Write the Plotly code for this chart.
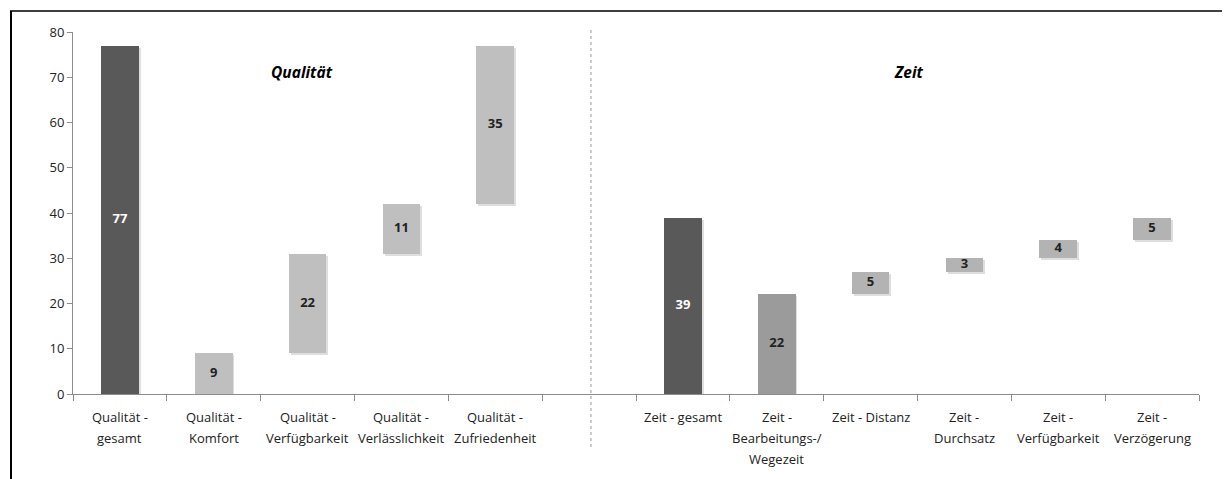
import plotly.graph_objects as go

# ---- data ----
categories = ["Qualität - gesamt", "Qualität - Komfort", "Qualität - Verfügbarkeit",
              "Qualität - Verlässlichkeit", "Qualität - Zufriedenheit", "",
              "Zeit - gesamt", "Zeit - Bearbeitungs-/Wegezeit", "Zeit - Distanz",
              "Zeit - Durchsatz", "Zeit - Verfügbarkeit", "Zeit - Verzögerung"]
tick_labels = [["Qualität -", "gesamt"], ["Qualität -", "Komfort"], ["Qualität -", "Verfügbarkeit"],
               ["Qualität -", "Verlässlichkeit"], ["Qualität -", "Zufriedenheit"], [],
               ["Zeit - gesamt"], ["Zeit -", "Bearbeitungs-/", "Wegezeit"], ["Zeit - Distanz"],
               ["Zeit -", "Durchsatz"], ["Zeit -", "Verfügbarkeit"], ["Zeit -", "Verzögerung"]]
values = [77, 9, 22, 11, 35, None, 39, 22, 5, 3, 4, 5]
bases = [0, 0, 9, 31, 42, None, 0, 0, 22, 27, 30, 34]
group_titles = ["Qualität", "Zeit"]
y_ticks = [0, 10, 20, 30, 40, 50, 60, 70, 80]

# ---- styles ----
colors = ["#595959", "#bfbfbf", "#bfbfbf", "#bfbfbf", "#bfbfbf", "#ffffff",
          "#595959", "#9b9b9b", "#b3b3b3", "#b3b3b3", "#b3b3b3", "#b3b3b3"]
text_colors = ["#ffffff", "#222222", "#222222", "#222222", "#222222", "#222222",
               "#ffffff", "#222222", "#222222", "#222222", "#222222", "#222222"]
FONT = "Open Sans"
OFF = 8  # page body margin
W, H = 1230 - OFF, 479 - OFF
ML, MT = 73 - OFF, 32 - OFF
PW, PH = 1126, 362
MR, MB = W - ML - PW, H - MT - PH


def px_x(px):  # page pixel -> paper x
    return (px - OFF - ML) / PW


def px_y(py):  # page pixel -> paper y
    return (MT + PH - (py - OFF)) / PH


xs = list(range(len(categories)))
bx = [x for x, v in zip(xs, values) if v is not None]
bv = [v for v in values if v is not None]
bb = [b for b in bases if b is not None]
bc = [c for c, v in zip(colors, values) if v is not None]
tc = [c for c, v in zip(text_colors, values) if v is not None]

fig = go.Figure()
# soft shadow
fig.add_trace(go.Bar(x=bx, y=bv, base=[b - 0.45 for b in bb], width=0.4, offset=-0.18,
                     marker=dict(color="rgba(0,0,0,0.13)", line=dict(width=0)),
                     hoverinfo="skip", showlegend=False))
# bars
fig.add_trace(go.Bar(x=bx, y=bv, base=bb, width=0.4, offset=-0.2,
                     marker=dict(color=bc, line=dict(width=0)),
                     showlegend=False))
# value labels
fig.add_trace(go.Scatter(x=bx, y=[b + v / 2 for b, v in zip(bb, bv)],
                         mode="text", text=[str(v) for v in bv],
                         textfont=dict(family=FONT, size=13, color=tc, weight="bold"),
                         showlegend=False, hoverinfo="skip"))

annotations = []
# category labels (multi-line, Excel-like line spacing)
for x, lines in zip(xs, tick_labels):
    for k, line in enumerate(lines):
        annotations.append(dict(x=x, xref="x", y=0, yref="paper", text=line,
                                showarrow=False, yanchor="middle", xanchor="center",
                                yshift=-23 - 21 * k,
                                font=dict(family=FONT, size=13, color="#222222")))
# group titles
for title, cx in zip(group_titles, [302, 909]):
    annotations.append(dict(x=px_x(cx), xref="paper", y=px_y(72), yref="paper",
                            text=f"<b><i>{title}</i></b>", showarrow=False,
                            xanchor="center", yanchor="middle",
                            font=dict(family=FONT, size=15.5, color="#000000")))

shapes = [
    # dotted separator
    dict(type="line", xref="x", yref="paper", x0=5.02, x1=5.02, y0=px_y(30), y1=px_y(447),
         line=dict(color="#999999", width=1, dash="dot")),
    # frame lines
    dict(type="line", xref="paper", yref="paper", x0=px_x(10), x1=px_x(1236),
         y0=px_y(11), y1=px_y(11), line=dict(color="#000000", width=1.5)),
    dict(type="line", xref="paper", yref="paper", x0=px_x(11), x1=px_x(11),
         y0=px_y(11), y1=px_y(485), line=dict(color="#000000", width=2)),
]

fig.update_layout(
    width=W, height=H, barmode="overlay", bargap=0,
    margin=dict(l=ML, r=MR, t=MT, b=MB),
    paper_bgcolor="#ffffff", plot_bgcolor="#ffffff",
    font=dict(family=FONT, size=13, color="#222222"),
    annotations=annotations, shapes=shapes, showlegend=False,
)
fig.update_xaxes(range=[-0.5, len(categories) - 0.5], showgrid=False, zeroline=False,
                 showline=True, linecolor="#8c8c8c", linewidth=1,
                 tickvals=xs, ticktext=[""] * len(xs), ticks="",
                 minor=dict(tick0=-0.5, dtick=1, ticks="outside", ticklen=6,
                            tickcolor="#8c8c8c", showgrid=False))
fig.update_yaxes(range=[0, 80], tickvals=y_ticks, showgrid=False, zeroline=False,
                 showline=True, linecolor="#8c8c8c", linewidth=1,
                 ticks="outside", ticklen=5, tickcolor="#8c8c8c",
                 tickfont=dict(family=FONT, size=13, color="#222222"))

fig.write_html("out.html")
